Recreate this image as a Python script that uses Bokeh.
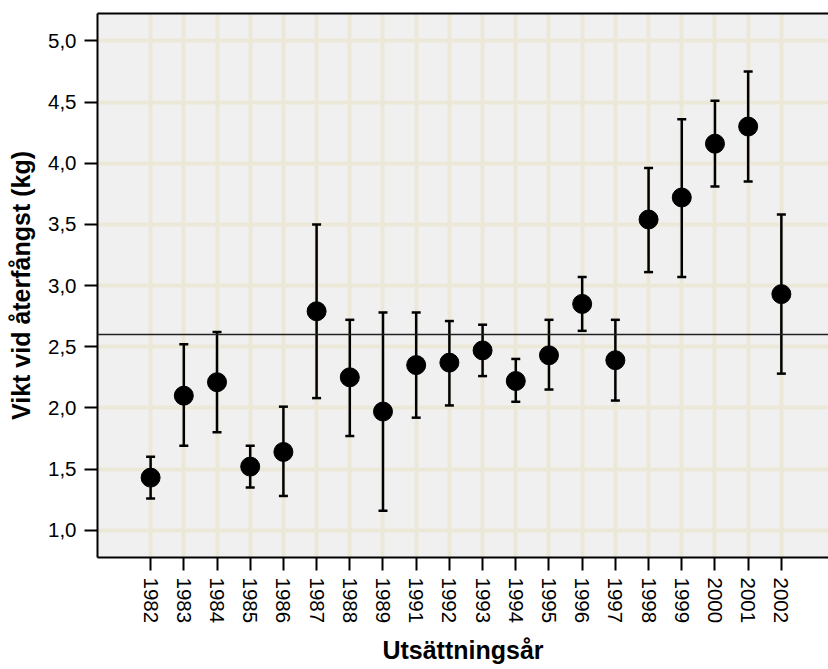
from bokeh.plotting import figure
from bokeh.models import (ColumnDataSource, Whisker, TeeHead, FixedTicker,
                          CustomJSTickFormatter, Span, LinearAxis, Range1d)
from bokeh.embed import file_html
from bokeh.resources import INLINE

# Release year categories (no release in 1990)
years = ["1982", "1983", "1984", "1985", "1986", "1987", "1988", "1989",
         "1991", "1992", "1993", "1994", "1995", "1996", "1997", "1998",
         "1999", "2000", "2001", "2002"]

# Mean weight at recapture (kg) with confidence interval bounds
mean_kg = [1.43, 2.10, 2.21, 1.52, 1.64, 2.79, 2.25, 1.97, 2.35, 2.37,
           2.47, 2.22, 2.43, 2.85, 2.39, 3.54, 3.72, 4.16, 4.30, 2.93]
lower_kg = [1.26, 1.69, 1.80, 1.35, 1.28, 2.08, 1.77, 1.16, 1.92, 2.02,
            2.26, 2.05, 2.15, 2.63, 2.06, 3.11, 3.07, 3.81, 3.85, 2.28]
upper_kg = [1.60, 2.52, 2.62, 1.69, 2.01, 3.50, 2.72, 2.78, 2.78, 2.71,
            2.68, 2.40, 2.72, 3.07, 2.72, 3.96, 4.36, 4.51, 4.75, 3.58]

# Overall reference level
reference_kg = 2.6

y_ticks = [1.0, 1.5, 2.0, 2.5, 3.0, 3.5, 4.0, 4.5, 5.0]

FONT = "Liberation Sans"
GRID = "#ECE8D8"

pos = list(range(len(years)))
src = ColumnDataSource(dict(x=pos, mean=mean_kg, lower=lower_kg, upper=upper_kg))

p = figure(width=828, height=669, output_backend="svg", toolbar_location=None,
           x_range=Range1d(-1.6, 20.42), y_range=Range1d(0.777, 5.224),
           min_border_left=97, min_border_right=0, min_border_top=13,
           min_border_bottom=112)

p.background_fill_color = "#F0F0F0"
p.border_fill_color = "white"
p.outline_line_color = None

# grid
p.xgrid.ticker = FixedTicker(ticks=pos)
p.ygrid.ticker = FixedTicker(ticks=y_ticks)
for g in (p.xgrid, p.ygrid):
    g.grid_line_color = GRID
    g.grid_line_width = 4

# x axis
xa = p.xaxis[0]
xa.ticker = FixedTicker(ticks=pos)
xa.formatter = CustomJSTickFormatter(args=dict(labels=years),
                                     code="return labels[Math.round(tick)];")
xa.major_label_orientation = "vertical"
xa.axis_label = "Utsättningsår"

# y axis
ya = p.yaxis[0]
ya.ticker = FixedTicker(ticks=y_ticks)
ya.formatter = CustomJSTickFormatter(code="return tick.toFixed(1).replace('.', ',');")
ya.axis_label = "Vikt vid återfångst (kg)"

for ax in (xa, ya):
    ax.axis_line_color = "black"
    ax.axis_line_width = 2
    ax.major_tick_line_color = "black"
    ax.major_tick_line_width = 2
    ax.major_tick_out = 13
    ax.major_tick_in = 0
    ax.minor_tick_line_color = None
    ax.major_label_text_font = FONT
    ax.major_label_text_font_size = "20.5px"
    ax.major_label_text_color = "black"
    ax.axis_label_text_font = FONT
    ax.axis_label_text_font_size = "25px"
    ax.axis_label_text_font_style = "bold"
    ax.axis_label_text_color = "black"

xa.major_label_standoff = 7
xa.axis_label_standoff = 10
ya.major_label_standoff = 8
ya.axis_label_standoff = 10

# top frame line
top = LinearAxis(ticker=FixedTicker(ticks=[]), axis_line_color="black",
                 axis_line_width=2, major_tick_line_color=None,
                 minor_tick_line_color=None, major_label_text_font_size="0px")
p.add_layout(top, "above")

# reference level
p.add_layout(Span(location=reference_kg, dimension="width",
                  line_color="#222222", line_width=1.5))

# confidence intervals
p.add_layout(Whisker(source=src, base="x", upper="upper", lower="lower",
                     line_color="black", line_width=2.5,
                     upper_head=TeeHead(size=9, line_color="black", line_width=2.5),
                     lower_head=TeeHead(size=9, line_color="black", line_width=2.5)))

# means
p.scatter("x", "mean", source=src, size=19, fill_color="black", line_color="black")

open("out.html", "w").write(file_html(p, INLINE))
